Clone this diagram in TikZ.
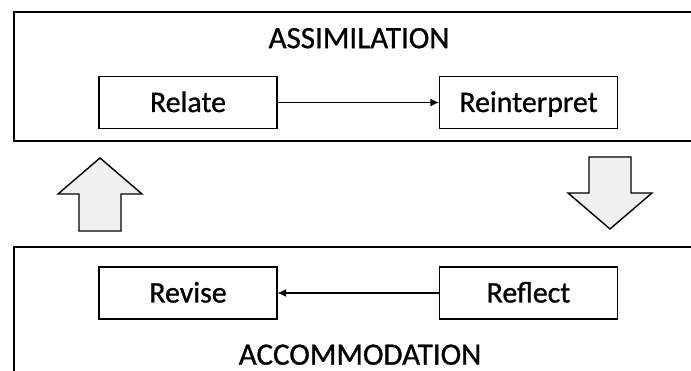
\documentclass[tikz,border=0pt]{standalone}
\usepackage{fontspec}
\setmainfont{Carlito}[FakeBold=0.9]
\usetikzlibrary{arrows,arrows.meta,positioning}

\begin{document}
\begin{tikzpicture}[x=0.03cm,y=-0.03cm]%
        \useasboundingbox (0,0) rectangle (691,371); %%
        \clip (0,0) rectangle (691,371); %%
        \tikzstyle{frame}=[draw,line width=1.2pt] %%
        \tikzstyle{bigarrow}=[draw,line width=1.2pt,fill=gray!12,line join=miter] %%
        \tikzstyle{link}=[line width=0.9pt,-{Latex[length=2.6mm,width=2.4mm]}] %%
        %% the two outer frames
        \draw[frame] (14,12) rectangle (720,141); %%
        \draw[frame] (14,247) rectangle (720,400); %%
        \begin{scope}[inner sep=0pt, text height=0.58cm, text depth=0pt]
        \tikzstyle{every node}=[font=\fontsize{26.5}{32}\selectfont] %%
        \node (asm) at (359,38.5)  {ASSIMILATION}; %%
        \node (acc) at (360,355)  {ACCOMMODATION}; %%
        \end{scope}%
        \begin{scope}[inner sep=0pt, minimum width=5.33cm, minimum height=1.56cm, text height=0.57cm, text depth=0pt]
        \tikzstyle{every node}=[draw,line width=1.2pt,font=\fontsize{25.5}{30}\selectfont] %%
        \node (rel) at (188,102.5)  {Relate}; %%
        \node (rei) at (528.5,102.5)  {Reinterpret}; %%
        \node (rev) at (188,293)  {Revise}; %%
        \node (ref) at (528.5,293)  {Reflect}; %%
        \end{scope}
        \draw[link] (rel)--(rei); %%
        \draw[link] (ref)--(rev); %%
        %% block arrows between the frames
        \draw[bigarrow] (100,158)--(142,194)--(121,194)--(121,231)--(79,231)--(79,194)--(58,194)--cycle; %%
        \draw[bigarrow] (610,229)--(652,193)--(631,193)--(631,157)--(589,157)--(589,193)--(568,193)--cycle; %%
\end{tikzpicture}
\end{document}
